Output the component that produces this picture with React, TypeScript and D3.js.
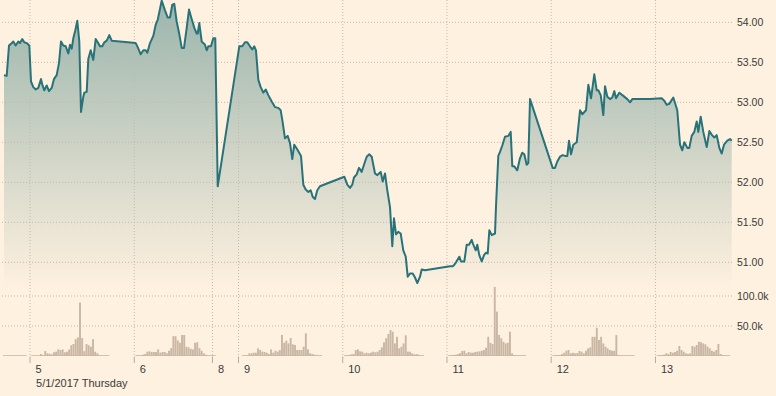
import React from "react";
import * as d3 from "d3";

// trading hours since the start of the chart, and the price at each one
const priceHours = [
  0, 0.62, 1.15, 1.61, 2.14, 2.69, 3.29, 3.68, 4.21, 4.67,
  5.23, 5.83, 6.22, 6.75, 7.3, 7.9, 8.52, 8.82, 9.28, 9.83,
  10.36, 10.98, 11.51, 12.13, 12.66, 13.12, 13.65, 14.21, 14.81, 15.2,
  15.59, 15.96, 16.42, 16.88, 17.34, 17.73, 18.26, 18.49, 19.04, 19.41,
  19.96, 20.56, 21.11, 21.58, 22.1, 22.63, 23.1, 23.65, 24.25, 24.8,
  30.33, 30.79, 31.48, 32.08, 32.63, 33.0, 33.62, 34.38, 34.93, 35.39,
  36.31, 37.07, 37.69, 38.22, 38.75, 39.21, 39.76, 40.3, 40.92, 41.45,
  42.07, 42.6, 43.06, 43.82, 44.37, 44.6, 44.97, 45.52, 45.89, 46.28,
  46.67, 47.04, 47.66, 48.19, 48.65, 49.21, 54.18, 54.87, 55.49, 56.02,
  56.64, 57.17, 57.63, 58.02, 58.56, 59.11, 59.71, 60.26, 60.86, 61.64,
  62.4, 63.16, 63.71, 64.08, 64.7, 65.32, 65.85, 66.38, 66.84, 67.54,
  68.39, 68.92, 69.47, 70.07, 70.62, 71.08, 71.61, 72.14, 72.76, 78.36,
  79.05, 79.67, 80.2, 80.59, 81.21, 81.74, 82.36, 82.89, 83.52, 84.11,
  84.67, 85.43, 85.96, 86.74, 87.2, 87.73, 88.26, 88.88, 89.41, 89.8,
  90.26, 90.79, 91.34, 91.94, 92.5, 92.96, 93.49, 94.11, 94.64, 95.17,
  95.79, 96.18, 96.94, 102.7, 103.32, 103.69, 104.08, 104.84, 105.23, 105.99,
  106.54, 107.07, 107.69, 108.06, 108.62, 108.98, 109.44, 110.0, 110.53, 110.99,
  111.38, 111.75, 112.3, 113.06, 113.29, 113.82, 114.21, 114.74, 115.36, 116.12,
  116.67, 117.04, 117.5, 118.19, 118.81, 119.34, 119.8, 120.35, 120.72, 121.12,
  126.34, 126.87, 127.4, 128.02, 128.65, 129.18, 129.71, 130.1, 130.56, 131.09,
  131.87, 132.64, 133.16, 134.01, 134.55, 135.17, 135.92, 136.48, 136.85, 137.4,
  138.0, 138.39, 138.92, 139.54, 140.07, 140.53, 140.92, 141.68, 142.6, 143.52,
  144.15, 144.68, 148.75, 151.44, 152.04, 152.59, 153.19, 154.11, 155.03, 155.66,
  156.18, 156.65, 157.34, 157.8, 158.35, 158.95, 159.5, 159.87, 160.42, 161.02,
  161.81, 162.41, 163.03, 163.56, 164.11, 164.71, 165.26, 165.79, 166.55, 167.17, 167.56,
];
const prices = [
  53.34, 53.33, 53.71, 53.73, 53.76, 53.71, 53.76, 53.74, 53.79, 53.75,
  53.74, 53.71, 53.26, 53.19, 53.16, 53.18, 53.29, 53.22, 53.15, 53.21,
  53.14, 53.18, 53.29, 53.34, 53.49, 53.76, 53.71, 53.7, 53.61, 53.72,
  53.67, 53.8, 53.9, 54.02, 53.76, 52.88, 53.07, 53.12, 53.13, 53.54,
  53.65, 53.53, 53.79, 53.75, 53.7, 53.7, 53.75, 53.77, 53.84, 53.77,
  53.74, 53.69, 53.6, 53.65, 53.65, 53.62, 53.74, 53.83, 53.97, 54.03,
  54.27, 54.15, 54.06, 54.06, 54.22, 54.23, 54.01, 53.87, 53.68, 53.68,
  53.93, 54.16, 54.07, 53.93, 53.86, 53.86, 53.99, 53.76, 53.74, 53.72,
  53.65, 53.7, 53.7, 53.8, 53.8, 51.95, 53.7, 53.7, 53.75, 53.75,
  53.7, 53.66, 53.7, 53.65, 53.28, 53.19, 53.12, 53.16, 53.09, 53.01,
  52.94, 52.93, 52.9, 52.78, 52.55, 52.58, 52.49, 52.29, 52.47, 52.41,
  52.33, 51.97, 51.91, 51.88, 51.9, 51.82, 51.79, 51.9, 51.95, 52.07,
  51.97, 51.93, 51.97, 52.06, 52.1, 52.18, 52.13, 52.22, 52.32, 52.35,
  52.32, 52.11, 52.09, 52.13, 52.01, 52.11, 51.9, 51.69, 51.2, 51.55,
  51.35, 51.38, 51.36, 51.15, 51.07, 50.82, 50.86, 50.86, 50.81, 50.74,
  50.82, 50.91, 50.9, 50.95, 50.95, 50.97, 51.0, 51.07, 51.01, 51.01,
  51.22, 51.22, 51.28, 51.22, 51.15, 51.22, 51.09, 51.01, 51.09, 51.12,
  51.11, 51.4, 51.34, 51.36, 51.7, 52.33, 52.38, 52.46, 52.57, 52.58,
  52.63, 52.2, 52.2, 52.15, 52.3, 52.37, 52.35, 52.22, 52.24, 53.04,
  52.18, 52.18, 52.26, 52.32, 52.34, 52.33, 52.33, 52.52, 52.35, 52.47,
  52.5, 52.9, 52.85, 52.9, 53.22, 53.05, 53.35, 53.15, 53.15, 53.09,
  52.84, 53.2, 53.07, 53.04, 53.06, 53.14, 53.05, 53.12, 53.08, 53.04,
  53.0, 53.04, 53.04, 53.05, 53.02, 52.97, 52.98, 53.06, 52.9, 52.47,
  52.4, 52.5, 52.43, 52.43, 52.58, 52.63, 52.76, 52.63, 52.82, 52.63,
  52.44, 52.64, 52.59, 52.56, 52.59, 52.43, 52.36, 52.47, 52.52, 52.54, 52.52,
];

// volume, in thousands, every half hour; one list per session
const volumeStarts = [0, 6.5, 30.5, 55, 78.5, 102.5, 126.5, 150.5];
const volDay4 = [0.3, 0.3, 0.3, 0.3, 0.3, 0.3, 0.3, 0.3, 0.3, 0.3, 0.3];
const volDay5 = [0.3, 0.3, 0.3, 0.3, 3.3, 1.7, 8.3, 4.5, 3.8, 2.8, 6.2, 7.2, 11, 10, 11, 6.2, 7.2, 11, 18, 20, 28, 31, 89, 30, 8, 20, 18, 15.5, 28, 7.2, 4.5, 1.2, 0.5, 0.5, 0.5, 0.3];
const volDay6 = [0.5, 1.2, 0.5, 2.2, 3.3, 7.2, 7.8, 6.7, 6.7, 6.7, 11, 5.5, 6.7, 6.7, 4.5, 8.8, 13, 33, 33, 26, 22, 35, 35, 15.5, 14.5, 12, 11, 22, 23, 13, 8.8, 4.5, 2.2, 0.5, 0.5, 0.3, 0.3];
const volDay9 = [0.5, 0.8, 0.8, 4.5, 4.5, 5.5, 5.5, 12.8, 10, 7.2, 6.7, 5.5, 3.3, 11, 5.5, 8.8, 7.2, 10, 35, 22, 25.5, 21, 30, 19.5, 18.3, 10, 10, 10, 15.5, 37.8, 11, 4.5, 3.3, 2.2, 1.2, 0.5, 0.5];
const volDay10 = [0.5, 1.2, 1.7, 2.8, 3.3, 10, 11, 7.8, 7.2, 4.5, 5.5, 4.5, 5.5, 7.2, 6.2, 7.2, 10, 14.5, 22.8, 29.5, 36.7, 43.3, 40.5, 21, 32, 12.8, 15.5, 21, 34.5, 7.2, 7.2, 4.5, 2.8, 3.3, 2.2, 0.5, 0.3];
const volDay11 = [0.5, 1.2, 1.7, 2.2, 3.3, 4.5, 8.3, 8.8, 4.5, 6.7, 5.5, 5.5, 6.7, 7.2, 7.8, 8.8, 10, 13.8, 32, 22, 20, 115, 74, 35, 29.5, 23.8, 21, 22, 40.5, 4.5, 1.7, 1.2, 0.5, 0.5, 0.5, 0.5];
const volDay12 = [0.5, 1.2, 1.2, 1.7, 3.3, 5.5, 8.8, 10, 4.5, 5.5, 4.5, 5, 8.3, 7.2, 4.5, 8.8, 12.8, 14.5, 32, 32, 47, 26.7, 32, 21, 15.5, 12.8, 10, 8.8, 8.8, 35, 1.7, 0.5, 0.5, 0.3, 0.3, 0.3, 0.3, 0.3];
const volDay13 = [0.5, 1.2, 1.7, 2.2, 4.5, 3.3, 6.7, 5.5, 6.7, 8.8, 16.7, 10, 7.2, 4.5, 3.3, 4.5, 16.7, 15.5, 18.3, 23.8, 22.8, 21, 19.5, 15.5, 12.8, 8.8, 7.2, 10, 20, 3.3, 1.7, 1.2, 0.5, 0.5];
const volumeDays = [volDay4, volDay5, volDay6, volDay9, volDay10, volDay11, volDay12, volDay13];

const dayTicks = [6, 30, 48, 54, 78, 102, 126, 150];
const dayLabels = ["5", "6", "8", "9", "10", "11", "12", "13"];
const priceTicks = [51, 51.5, 52, 52.5, 53, 53.5, 54];
const volumeTicks = [50000, 100000];
const dateLabel = "5/1/2017 Thursday";

const W = 776;
const H = 396;
const bg = "#fff1e0";
const font = "'Liberation Sans', Arial, sans-serif";

export default function App() {
  const x = d3.scaleLinear().domain([0, 167.56]).range([4, 731.7]);
  const y = d3.scaleLinear().domain([51, 54]).range([262.3, 22.3]);
  const yVol = d3.scaleLinear().domain([0, 100000]).range([356, 296]);
  const floor = y(50.65);

  const points = priceHours.map((h, i) => ({ h, p: prices[i] }));
  const line = d3.line<any>().x((d) => x(d.h)).y((d) => y(d.p));
  const area = d3.area<any>().x((d) => x(d.h)).y0(floor).y1((d) => y(d.p));

  const bars: { h: number; v: number }[] = [];
  const baselines: [number, number][] = [];
  volumeDays.forEach((vals, k) => {
    vals.forEach((v, i) => bars.push({ h: volumeStarts[k] + i * 0.5, v: v * 1000 }));
    baselines.push([volumeStarts[k], volumeStarts[k] + (vals.length - 1) * 0.5]);
  });
  const bw = 1.9;

  return (
    <div style={{ position: "fixed", left: 0, top: 0, width: W, height: H, background: bg }}>
      <svg width={W} height={H} style={{ display: "block" }} fontFamily={font}>
        <defs>
          <linearGradient id="fill" gradientUnits="userSpaceOnUse" x1="0" y1="0" x2="0" y2={floor}>
            <stop offset="0" stopColor="#9bb5ac" />
            <stop offset="1" stopColor={bg} />
          </linearGradient>
        </defs>
        <rect width={W} height={H} fill={bg} />

        <path d={area(points) || ""} fill="url(#fill)" />

        {/* horizontal grid */}
        {priceTicks.map((t) => (
          <line key={"p" + t} x1={2} x2={732} y1={y(t)} y2={y(t)} stroke="#c2b8ad" strokeDasharray="1,2" />
        ))}
        {volumeTicks.map((t) => (
          <line key={"v" + t} x1={2} x2={732} y1={yVol(t)} y2={yVol(t)} stroke="#c2b8ad" strokeDasharray="1,2" />
        ))}
        {/* vertical grid + ticks */}
        {dayTicks.map((t) => (
          <g key={"d" + t}>
            <line x1={x(t)} x2={x(t)} y1={0} y2={356} stroke="#c2b8ad" strokeDasharray="1,2" />
            <line x1={x(t)} x2={x(t)} y1={356.5} y2={363} stroke="#b3aaa0" />
          </g>
        ))}

        {/* volume */}
        {baselines.map(([a, b], i) => (
          <line key={"b" + i} x1={x(a) - bw / 2} x2={x(b) + bw / 2} y1={355.5} y2={355.5} stroke="#d4c6b7" />
        ))}
        {bars.map((d, i) => (
          <rect key={"r" + i} x={x(d.h) - bw / 2} width={bw} y={yVol(d.v)} height={yVol(0) - yVol(d.v)} fill="#c9b6a3" />
        ))}

        <path d={line(points) || ""} fill="none" stroke="#28737a" strokeWidth={2} strokeLinejoin="round" />

        {/* right axis */}
        {priceTicks.map((t) => (
          <text key={"pl" + t} x={737} y={y(t)} dy="0.35em" fontSize={10.5} fill="#3a3a3a">
            {d3.format(".2f")(t)}
          </text>
        ))}
        {volumeTicks.map((t) => (
          <text key={"vl" + t} x={737} y={yVol(t)} dy="0.35em" fontSize={10.5} fill="#3a3a3a">
            {d3.format(".1f")(t / 1000) + "k"}
          </text>
        ))}

        {/* day labels */}
        {dayTicks.map((t, i) => (
          <text key={"dl" + t} x={x(t) + 5.5} y={372.5} fontSize={11} fill="#3a3a3a">
            {dayLabels[i]}
          </text>
        ))}
        <text x={x(dayTicks[0]) + 6} y={387} fontSize={11} fill="#3a3a3a">
          {dateLabel}
        </text>
      </svg>
    </div>
  );
}
